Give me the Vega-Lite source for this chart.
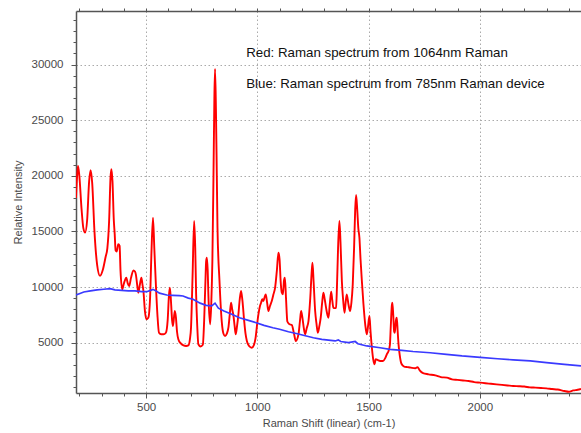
{
  "$schema": "https://vega.github.io/schema/vega-lite/v6.json",
  "width": 505,
  "height": 382,
  "autosize": {"type": "none"},
  "padding": {"left": 76, "top": 11, "right": 0, "bottom": 40},
  "config": {
    "font": "Liberation Sans",
    "view": {"stroke": null},
    "axis": {
      "domainColor": "#555555",
      "domainWidth": 1.5,
      "tickColor": "#555555",
      "labelColor": "#4a4a4a",
      "titleColor": "#4a4a4a",
      "labelFontSize": 11.5,
      "titleFontSize": 11,
      "titleFontWeight": "normal",
      "gridColor": "#aaaaaa",
      "gridDash": [1.5, 2.5],
      "gridWidth": 1,
      "labelOverlap": false
    }
  },
  "datasets": {
    "red": [
      {"x":185,"y":18000},{"x":190,"y":20000},{"x":194,"y":20880},{"x":200,"y":20000},{"x":210,"y":17000},{"x":218,"y":15300},{"x":226,"y":14900},{"x":235,"y":16000},{"x":244,"y":19500},{"x":251,"y":20500},{"x":258,"y":19300},{"x":268,"y":15000},{"x":280,"y":12000},{"x":293,"y":11000},{"x":305,"y":11500},{"x":318,"y":12700},{"x":326,"y":13500},{"x":334,"y":16000},{"x":340,"y":19800},{"x":344,"y":20600},{"x":349,"y":19500},{"x":355,"y":16000},{"x":359,"y":14760},{"x":363,"y":13300},{"x":368,"y":13200},{"x":375,"y":13850},{"x":381,"y":13700},{"x":385,"y":11500},{"x":393,"y":9790},{"x":400,"y":10300},{"x":411,"y":10840},{"x":418,"y":10300},{"x":424,"y":10090},{"x":432,"y":10800},{"x":443,"y":11500},{"x":450,"y":11400},{"x":454,"y":11140},{"x":460,"y":10200},{"x":465,"y":9490},{"x":472,"y":10200},{"x":479,"y":10840},{"x":484,"y":10200},{"x":488,"y":9640},{"x":495,"y":7800},{"x":501,"y":7100},{"x":510,"y":7240},{"x":518,"y":9000},{"x":524,"y":13000},{"x":531,"y":16230},{"x":537,"y":13500},{"x":544,"y":10240},{"x":551,"y":7500},{"x":558,"y":5890},{"x":568,"y":5750},{"x":578,"y":5750},{"x":589,"y":5890},{"x":597,"y":7000},{"x":603,"y":9300},{"x":607,"y":9940},{"x":612,"y":8700},{"x":617,"y":7000},{"x":621,"y":6490},{"x":629,"y":7840},{"x":634,"y":7300},{"x":639,"y":6000},{"x":645,"y":5300},{"x":655,"y":4950},{"x":668,"y":4750},{"x":680,"y":4700},{"x":690,"y":4750},{"x":697,"y":5300},{"x":702,"y":6340},{"x":709,"y":11000},{"x":716,"y":15930},{"x":721,"y":13500},{"x":725,"y":9340},{"x":730,"y":6500},{"x":735,"y":4850},{"x":745,"y":4650},{"x":755,"y":4800},{"x":761,"y":6940},{"x":766,"y":10000},{"x":770,"y":12300},{"x":773,"y":12630},{"x":777,"y":11500},{"x":780,"y":9340},{"x":788,"y":6650},{"x":793,"y":8500},{"x":798,"y":12340},{"x":803,"y":20000},{"x":807,"y":27000},{"x":810,"y":29600},{"x":814,"y":26000},{"x":818,"y":20000},{"x":821,"y":15330},{"x":830,"y":10540},{"x":840,"y":6940},{"x":848,"y":5800},{"x":855,"y":5600},{"x":863,"y":5800},{"x":870,"y":6340},{"x":876,"y":7500},{"x":882,"y":8590},{"x":887,"y":8000},{"x":893,"y":7390},{"x":898,"y":6500},{"x":903,"y":5750},{"x":909,"y":6500},{"x":915,"y":7540},{"x":921,"y":8900},{"x":927,"y":9640},{"x":933,"y":8800},{"x":941,"y":6940},{"x":947,"y":5800},{"x":953,"y":5150},{"x":963,"y":4700},{"x":975,"y":4540},{"x":985,"y":4800},{"x":992,"y":5400},{"x":1000,"y":6800},{"x":1005,"y":7540},{"x":1012,"y":8300},{"x":1017,"y":8590},{"x":1022,"y":8900},{"x":1027,"y":8740},{"x":1033,"y":9100},{"x":1038,"y":9340},{"x":1044,"y":8600},{"x":1050,"y":7840},{"x":1057,"y":8300},{"x":1065,"y":8740},{"x":1072,"y":9300},{"x":1080,"y":9940},{"x":1088,"y":11500},{"x":1095,"y":13080},{"x":1100,"y":12500},{"x":1105,"y":10500},{"x":1110,"y":9500},{"x":1115,"y":9340},{"x":1120,"y":10600},{"x":1124,"y":10840},{"x":1129,"y":9000},{"x":1135,"y":6900},{"x":1145,"y":6650},{"x":1155,"y":6580},{"x":1165,"y":5800},{"x":1173,"y":5150},{"x":1185,"y":5750},{"x":1192,"y":7000},{"x":1197,"y":7840},{"x":1203,"y":7200},{"x":1209,"y":6300},{"x":1215,"y":5750},{"x":1222,"y":6300},{"x":1230,"y":6940},{"x":1238,"y":9000},{"x":1244,"y":11200},{"x":1248,"y":12180},{"x":1253,"y":10500},{"x":1260,"y":7840},{"x":1266,"y":6700},{"x":1272,"y":5890},{"x":1279,"y":6500},{"x":1285,"y":7240},{"x":1291,"y":8500},{"x":1297,"y":9490},{"x":1303,"y":8900},{"x":1309,"y":8140},{"x":1315,"y":7500},{"x":1320,"y":7240},{"x":1326,"y":8500},{"x":1332,"y":9580},{"x":1337,"y":8800},{"x":1342,"y":8140},{"x":1348,"y":8100},{"x":1354,"y":8140},{"x":1358,"y":10000},{"x":1363,"y":13500},{"x":1369,"y":15930},{"x":1374,"y":14000},{"x":1380,"y":10540},{"x":1386,"y":8800},{"x":1392,"y":7690},{"x":1397,"y":8600},{"x":1402,"y":9340},{"x":1410,"y":8400},{"x":1417,"y":7840},{"x":1423,"y":8600},{"x":1429,"y":10240},{"x":1435,"y":13500},{"x":1440,"y":17000},{"x":1444,"y":18270},{"x":1449,"y":17000},{"x":1454,"y":15300},{"x":1459,"y":14430},{"x":1464,"y":12500},{"x":1470,"y":10540},{"x":1477,"y":8500},{"x":1485,"y":6650},{"x":1492,"y":5750},{"x":1498,"y":6500},{"x":1504,"y":7390},{"x":1509,"y":6000},{"x":1515,"y":4540},{"x":1521,"y":3500},{"x":1527,"y":3050},{"x":1532,"y":3500},{"x":1540,"y":3450},{"x":1552,"y":3350},{"x":1565,"y":3350},{"x":1575,"y":3600},{"x":1582,"y":3950},{"x":1590,"y":4250},{"x":1596,"y":4800},{"x":1600,"y":6500},{"x":1605,"y":8400},{"x":1607,"y":8590},{"x":1611,"y":7500},{"x":1615,"y":6000},{"x":1618,"y":5890},{"x":1623,"y":7000},{"x":1627,"y":7240},{"x":1631,"y":6000},{"x":1635,"y":4800},{"x":1640,"y":3900},{"x":1648,"y":3100},{"x":1660,"y":2850},{"x":1675,"y":2800},{"x":1690,"y":2750},{"x":1710,"y":2700},{"x":1720,"y":2800},{"x":1730,"y":2500},{"x":1745,"y":2250},{"x":1770,"y":2150},{"x":1800,"y":2050},{"x":1825,"y":1900},{"x":1852,"y":1850},{"x":1875,"y":1700},{"x":1900,"y":1650},{"x":1925,"y":1600},{"x":1950,"y":1550},{"x":1975,"y":1450},{"x":2002,"y":1400},{"x":2025,"y":1350},{"x":2050,"y":1300},{"x":2075,"y":1250},{"x":2100,"y":1200},{"x":2125,"y":1150},{"x":2150,"y":1100},{"x":2175,"y":1080},{"x":2200,"y":1050},{"x":2225,"y":980},{"x":2250,"y":950},{"x":2275,"y":920},{"x":2300,"y":890},{"x":2325,"y":830},{"x":2350,"y":780},{"x":2380,"y":650},{"x":2400,"y":580},{"x":2420,"y":700},{"x":2440,"y":760},{"x":2455,"y":830}
    ],
    "blue": [
      {"x":185,"y":9280},{"x":200,"y":9400},{"x":220,"y":9550},{"x":250,"y":9650},{"x":280,"y":9750},{"x":310,"y":9800},{"x":338,"y":9850},{"x":360,"y":9750},{"x":390,"y":9700},{"x":420,"y":9650},{"x":450,"y":9650},{"x":480,"y":9580},{"x":503,"y":9580},{"x":520,"y":9700},{"x":531,"y":9790},{"x":545,"y":9650},{"x":560,"y":9450},{"x":593,"y":9280},{"x":620,"y":9250},{"x":650,"y":9220},{"x":666,"y":9190},{"x":690,"y":9000},{"x":711,"y":8900},{"x":743,"y":8550},{"x":770,"y":8350},{"x":795,"y":8300},{"x":810,"y":8550},{"x":825,"y":8100},{"x":850,"y":7850},{"x":880,"y":7600},{"x":920,"y":7240},{"x":960,"y":7000},{"x":995,"y":6790},{"x":1030,"y":6550},{"x":1070,"y":6340},{"x":1100,"y":6200},{"x":1140,"y":5980},{"x":1180,"y":5800},{"x":1220,"y":5600},{"x":1252,"y":5440},{"x":1290,"y":5300},{"x":1320,"y":5220},{"x":1350,"y":5150},{"x":1364,"y":5250},{"x":1375,"y":5100},{"x":1410,"y":5000},{"x":1440,"y":5100},{"x":1452,"y":4900},{"x":1492,"y":4700},{"x":1552,"y":4540},{"x":1597,"y":4400},{"x":1650,"y":4300},{"x":1700,"y":4200},{"x":1777,"y":4090},{"x":1850,"y":3950},{"x":1920,"y":3800},{"x":2002,"y":3680},{"x":2080,"y":3550},{"x":2150,"y":3450},{"x":2227,"y":3350},{"x":2300,"y":3200},{"x":2380,"y":3050},{"x":2455,"y":2900}
    ],
    "notes": [
      {"x": 950, "y": 31040, "label": "Red: Raman spectrum from 1064nm Raman"},
      {"x": 950, "y": 28250, "label": "Blue: Raman spectrum from 785nm Raman device"}
    ]
  },
  "resolve": {"axis": {"x": "independent", "y": "independent"}},
  "layer": [
    {
      "data": {"name": "red"},
      "mark": {"type": "line", "color": "#ff0000", "strokeWidth": 1.9, "interpolate": "monotone", "clip": true},
      "encoding": {
        "x": {
          "field": "x", "type": "quantitative",
          "scale": {"domain": [185, 2455], "nice": false, "zero": false},
          "axis": {
            "orient": "bottom",
            "title": "Raman Shift (linear) (cm-1)",
            "values": [500, 1000, 1500, 2000],
            "format": "d",
            "grid": true,
            "tickSize": 5,
            "labelPadding": 3,
            "titlePadding": 5,
            "labelFlush": false
          }
        },
        "y": {
          "field": "y", "type": "quantitative",
          "scale": {"domain": [470, 34820], "nice": false, "zero": false},
          "axis": {
            "orient": "left",
            "title": "Relative Intensity",
            "values": [5000, 10000, 15000, 20000, 25000, 30000],
            "format": "d",
            "grid": true,
            "tickSize": 5,
            "labelPadding": 8,
            "titlePadding": 8,
            "labelFlush": false
          }
        }
      }
    },
    {
      "data": {"name": "blue"},
      "mark": {"type": "line", "color": "#3a3aff", "strokeWidth": 1.7, "clip": true},
      "encoding": {
        "x": {
          "field": "x", "type": "quantitative",
          "axis": {
            "orient": "top",
            "title": null,
            "values": [200,300,400,500,600,700,800,900,1000,1100,1200,1300,1400,1500,1600,1700,1800,1900,2000,2100,2200,2300,2400],
            "labels": false,
            "grid": false,
            "tickSize": 3
          }
        },
        "y": {
          "field": "y", "type": "quantitative",
          "axis": {
            "orient": "left",
            "title": null,
            "values": [1000,2000,3000,4000,6000,7000,8000,9000,11000,12000,13000,14000,16000,17000,18000,19000,21000,22000,23000,24000,26000,27000,28000,29000,31000,32000,33000,34000],
            "labels": false,
            "grid": false,
            "domain": false,
            "tickSize": 3
          }
        }
      }
    },
    {
      "data": {"name": "notes"},
      "mark": {"type": "text", "align": "left", "baseline": "middle", "fontSize": 13.3, "color": "#111111", "font": "Liberation Sans"},
      "encoding": {
        "x": {
          "field": "x", "type": "quantitative",
          "axis": {
            "orient": "bottom",
            "title": null,
            "values": [200,300,400,600,700,800,900,1100,1200,1300,1400,1600,1700,1800,1900,2100,2200,2300,2400],
            "labels": false,
            "grid": false,
            "domain": false,
            "tickSize": 3
          }
        },
        "y": {"field": "y", "type": "quantitative", "axis": null},
        "text": {"field": "label"}
      }
    }
  ]
}
